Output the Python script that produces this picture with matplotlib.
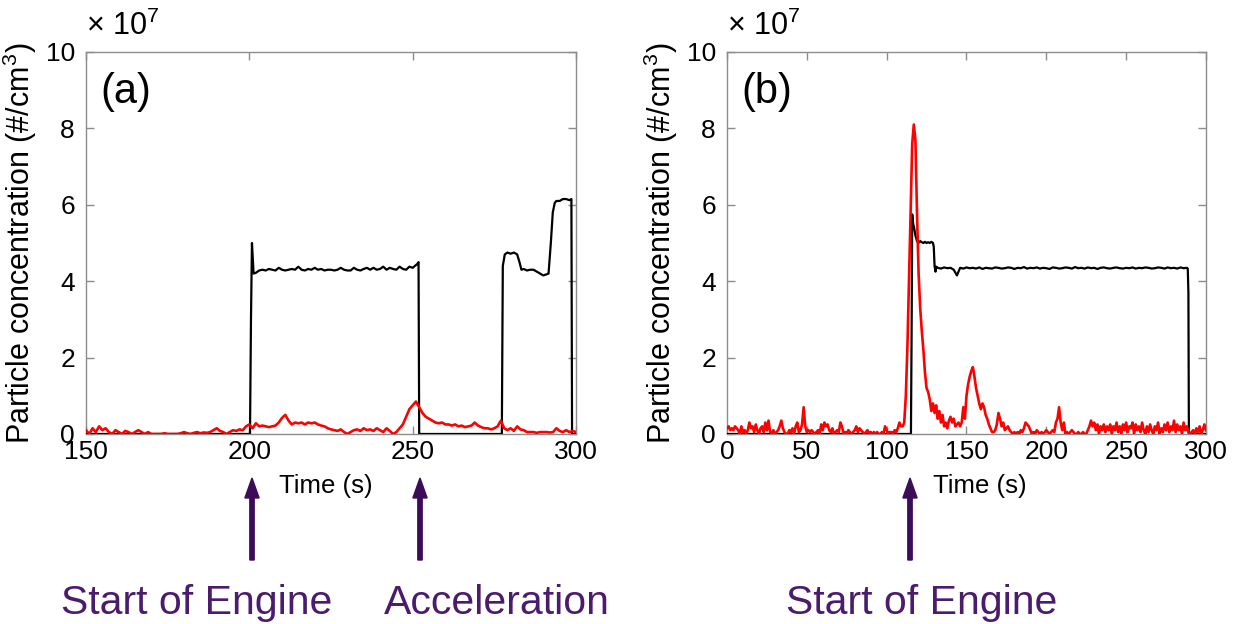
import numpy as np
import matplotlib
matplotlib.use("Agg")
import matplotlib.pyplot as plt

plt.rcParams['font.family'] = ['Liberation Sans', 'DejaVu Sans']
plt.rcParams['mathtext.fontset'] = 'custom'
plt.rcParams['mathtext.rm'] = 'Liberation Sans'
plt.rcParams['mathtext.it'] = 'Liberation Sans:italic'

# values in units of 1e7 #/cm3
# (a) red trace, one value per second from 150 s to 300 s
a_red_t = np.arange(150, 301)
a_red = [0.1, 0.0, 0.15, 0.05, 0.2, 0.1, 0.15, 0.05, 0.0, 0.1,
         0.05, 0.0, 0.08, 0.05, 0.0, 0.05, 0.1, 0.05, 0.0, 0.05,
         0.0, 0.0, 0.0, 0.0, 0.02, 0.0, 0.0, 0.0, 0.0, 0.02,
         0.05, 0.02, 0.0, 0.03, 0.05, 0.02, 0.04, 0.03, 0.05, 0.1,
         0.15, 0.08, 0.05, 0.0, 0.05, 0.1, 0.08, 0.12, 0.1, 0.2,
         0.25, 0.15, 0.28, 0.2, 0.22, 0.2, 0.18, 0.2, 0.22, 0.3,
         0.42, 0.5, 0.35, 0.25, 0.3, 0.28, 0.3, 0.25, 0.3, 0.28,
         0.3, 0.25, 0.22, 0.2, 0.15, 0.12, 0.1, 0.08, 0.12, 0.05,
         0.0, 0.05, 0.1, 0.12, 0.08, 0.15, 0.1, 0.12, 0.08, 0.15,
         0.1, 0.05, 0.15, 0.08, 0.0, 0.05, 0.15, 0.25, 0.45, 0.65,
         0.75, 0.85, 0.7, 0.55, 0.45, 0.4, 0.35, 0.3, 0.28, 0.3,
         0.25, 0.25, 0.22, 0.25, 0.2, 0.22, 0.18, 0.2, 0.22, 0.3,
         0.22, 0.18, 0.15, 0.15, 0.12, 0.15, 0.2, 0.35, 0.15, 0.1,
         0.15, 0.08, 0.2, 0.12, 0.1, 0.05, 0.05, 0.05, 0.03, 0.05,
         0.05, 0.05, 0.04, 0.05, 0.15, 0.08, 0.05, 0.1, 0.05, 0.08, 0.05]

# (a) black trace
a_flat = [4.22, 4.28, 4.3, 4.28, 4.32, 4.3, 4.28, 4.35, 4.3, 4.28,
          4.3, 4.32, 4.3, 4.38, 4.3, 4.28, 4.32, 4.3, 4.35, 4.3,
          4.32, 4.28, 4.3, 4.3, 4.28, 4.3, 4.35, 4.3, 4.28, 4.28,
          4.35, 4.3, 4.28, 4.32, 4.35, 4.3, 4.35, 4.3, 4.32, 4.38,
          4.3, 4.35, 4.32, 4.3, 4.38, 4.32, 4.3, 4.38, 4.35]
a_black_t = ([150, 200.2, 200.5, 200.8, 201.3] + list(range(202, 251)) +
             [251.4, 251.8, 252.0, 277.3, 277.6, 278.2, 279, 280, 281, 282,
              282.7, 283.3, 284, 285, 286, 287, 288, 289, 290, 291, 291.6,
              292.3, 292.9, 293.5, 294, 295, 296, 297, 298, 298.6, 298.8, 300])
a_black = ([0, 0, 3.0, 5.0, 4.2] + a_flat +
           [4.45, 4.5, 0, 0, 4.4, 4.7, 4.75, 4.72, 4.75, 4.7,
            4.5, 4.3, 4.32, 4.28, 4.3, 4.3, 4.25, 4.2, 4.15, 4.18, 4.2,
            5.0, 5.8, 6.05, 6.1, 6.1, 6.15, 6.15, 6.12, 6.15, 0, 0])

# (b) red trace, one value per second from 0 s to 300 s
b_red_t = np.arange(0, 301)
b_red = [0.15, 0.2, 0.1, 0.15, 0.1, 0.2, 0.15, 0.1, 0.0, 0.2,
         0.05, 0.1, 0.0, 0.1, 0.3, 0.15, 0.2, 0.05, 0.25, 0.1,
         0.0, 0.15, 0.2, 0.05, 0.3, 0.1, 0.35, 0.05, 0.0, 0.1,
         0.0, 0.05, 0.1, 0.2, 0.35, 0.15, 0.05, 0.0, 0.0, 0.1,
         0.05, 0.15, 0.0, 0.2, 0.3, 0.05, 0.1, 0.25, 0.7, 0.2,
         0.05, 0.1, 0.05, 0.1, 0.05, 0.0, 0.05, 0.1, 0.0, 0.25,
         0.1, 0.3, 0.2, 0.25, 0.1, 0.05, 0.15, 0.0, 0.05, 0.1,
         0.05, 0.3, 0.2, 0.0, 0.05, 0.0, 0.1, 0.05, 0.0, 0.05,
         0.1, 0.2, 0.05, 0.15, 0.1, 0.05, 0.0, 0.05, 0.1, 0.0,
         0.05, 0.0, 0.05, 0.0, 0.05, 0.0, 0.0, 0.05, 0.0, 0.2,
         0.1, 0.0, 0.05, 0.05, 0.0, 0.1, 0.05, 0.15, 0.3, 0.2,
         0.2, 0.3, 1.0, 2.3, 4.0, 5.8, 7.6, 8.1, 7.7, 5.8,
         4.2, 3.3, 2.7, 2.2, 1.6, 1.2, 1.1, 0.9, 0.6, 0.8,
         0.55, 0.75, 0.4, 0.6, 0.3, 0.5, 0.2, 0.3, 0.15, 0.35,
         0.45, 0.3, 0.4, 0.2, 0.25, 0.3, 0.2, 0.3, 0.7, 0.4,
         1.0, 1.3, 1.5, 1.65, 1.75, 1.5, 1.2, 1.0, 0.8, 0.65,
         0.8, 0.7, 0.5, 0.4, 0.25, 0.15, 0.05, 0.05, 0.1, 0.25,
         0.55, 0.4, 0.2, 0.3, 0.1, 0.15, 0.2, 0.1, 0.05, 0.0,
         0.05, 0.0, 0.05, 0.0, 0.1, 0.05, 0.15, 0.3, 0.25, 0.2,
         0.1, 0.0, 0.05, 0.0, 0.1, 0.05, 0.0, 0.05, 0.0, 0.05,
         0.1, 0.05, 0.0, 0.05, 0.1, 0.05, 0.3, 0.4, 0.7, 0.3,
         0.1, 0.3, 0.0, 0.05, 0.0, 0.05, 0.1, 0.05, 0.0, 0.0,
         0.05, 0.0, 0.0, 0.05, 0.0, 0.0, 0.1, 0.2, 0.35, 0.2,
         0.3, 0.1, 0.25, 0.0, 0.2, 0.1, 0.25, 0.05, 0.2, 0.1,
         0.25, 0.0, 0.2, 0.1, 0.3, 0.05, 0.2, 0.0, 0.25, 0.1,
         0.3, 0.05, 0.2, 0.15, 0.3, 0.0, 0.25, 0.1, 0.2, 0.05,
         0.3, 0.1, 0.0, 0.2, 0.05, 0.25, 0.1, 0.0, 0.2, 0.1,
         0.3, 0.0, 0.15, 0.05, 0.25, 0.1, 0.3, 0.05, 0.2, 0.1,
         0.35, 0.05, 0.25, 0.1, 0.2, 0.0, 0.3, 0.1, 0.2, 0.05,
         0.0, 0.05, 0.1, 0.0, 0.15, 0.05, 0.2, 0.0, 0.1, 0.25,
         0.1]

# (b) black trace
b_flat = [4.35, 4.33, 4.36, 4.34, 4.35, 4.3, 4.15, 4.35, 4.33, 4.36,
          4.34, 4.35, 4.33, 4.36, 4.32, 4.35, 4.34, 4.33, 4.36, 4.35,
          4.33, 4.34, 4.36, 4.35, 4.32, 4.35, 4.34, 4.37, 4.33, 4.35,
          4.34, 4.36, 4.33, 4.35, 4.34, 4.32, 4.36, 4.35, 4.33, 4.34,
          4.36, 4.35, 4.33, 4.37, 4.34, 4.35, 4.33, 4.36, 4.34, 4.35,
          4.32, 4.35, 4.36, 4.34, 4.33, 4.35, 4.36, 4.34, 4.33, 4.35,
          4.34, 4.36, 4.33, 4.35, 4.34, 4.36, 4.35, 4.33, 4.34, 4.36,
          4.35, 4.33, 4.36, 4.34, 4.35, 4.33, 4.36, 4.34, 4.35]
b_black_t = ([0, 115.2, 115.6, 116.0, 116.6, 117.2, 118, 119, 120, 121, 122,
              123, 124, 125, 126, 127, 128, 129, 129.5, 130, 130.6, 131] +
             list(range(132, 289, 2)) + [288.6, 289.0, 289.3, 300])
b_black = ([0, 0, 2.5, 5.75, 5.5, 5.4, 5.2, 5.05, 5.0, 5.05, 5.02,
            5.0, 5.03, 5.0, 5.02, 5.0, 5.03, 5.0, 4.9, 4.4, 4.25, 4.38] +
           b_flat + [4.33, 3.7, 0, 0])

ylabel = 'Particle concentration (#/cm$^{3}$)'
arrow_col = '#3d0c58'
text_col = '#4b1b6e'

fig = plt.figure(figsize=(12.36, 6.24), dpi=100)
ax_a = fig.add_axes([0.0696, 0.3045, 0.3964, 0.6122])
ax_b = fig.add_axes([0.5882, 0.3045, 0.3875, 0.6122])


def style(ax, xlim, xticks, letter, ylab_x):
    ax.set_xlim(*xlim)
    ax.set_ylim(0, 10)
    ax.set_xticks(xticks)
    ax.set_yticks([0, 2, 4, 6, 8, 10])
    for s in ax.spines.values():
        s.set_color('#8c8c8c')
        s.set_linewidth(1.0)
    ax.tick_params(direction='in', length=6, width=1, color='#8c8c8c',
                   top=True, right=True, labelsize=19)
    ax.tick_params(axis='y', pad=8)
    ax.tick_params(axis='x', pad=4)
    ax.set_ylabel(ylabel, fontsize=22)
    ax.yaxis.set_label_coords(ylab_x, 0.5)
    ax.set_xlabel('Time (s)', fontsize=18.5)
    ax.text(0.0, 1.045, '× 10$^{7}$', transform=ax.transAxes,
            fontsize=22, ha='left', va='baseline')
    ax.text(0.03, 0.895, letter, transform=ax.transAxes,
            fontsize=30, ha='left', va='center')


ax_a.plot(a_black_t, a_black, color='black', lw=1.6, zorder=3)
ax_a.plot(a_red_t, a_red, color='#ff0000', lw=1.9, zorder=4)
style(ax_a, (150, 300), [150, 200, 250, 300], '(a)', -0.096)
ax_a.xaxis.set_label_coords(0.49, -0.105)

ax_b.plot(b_black_t, b_black, color='black', lw=1.6, zorder=3)
ax_b.plot(b_red_t, b_red, color='#ff0000', lw=1.9, zorder=4)
style(ax_b, (0, 300), [0, 50, 100, 150, 200, 250, 300], '(b)', -0.098)
ax_b.xaxis.set_label_coords(0.528, -0.105)

# event arrows and captions below the panels
for xpix in [252, 420, 910]:
    fig.add_artist(matplotlib.patches.FancyArrow(
        xpix / 1236, 1 - 560 / 624, 0, (560 - 478) / 624,
        width=0.0035, head_width=0.0115, head_length=0.032,
        length_includes_head=True, color=arrow_col,
        transform=fig.transFigure))

for xpix, label in [(197, 'Start of Engine'), (497, 'Acceleration'),
                    (922, 'Start of Engine')]:
    fig.text(xpix / 1236, 1 - 603 / 624, label, fontsize=29.5,
             color=text_col, ha='center', va='center')

fig.savefig('out.png', dpi=100)
